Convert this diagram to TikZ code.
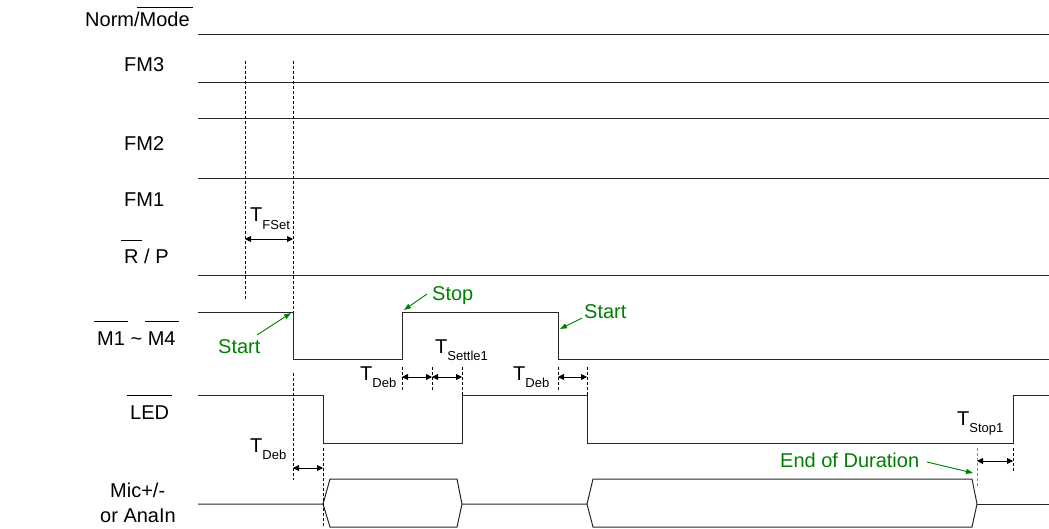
\documentclass[tikz,border=0pt]{standalone}
\usepackage{fontspec}
\setmainfont{Liberation Sans}
\usetikzlibrary{arrows.meta}
\definecolor{grn}{RGB}{0,128,0}
\newlength\ovw
\newcommand{\ovl}[2]{\settowidth{\ovw}{#2}\rlap{\hspace{-3pt}\rule[\dimexpr14.3pt+#1\relax]{\dimexpr\ovw+6pt\relax}{0.9pt}}#2}
\newcommand{\Tsb}[1]{T\raisebox{-7.5pt}{\fontsize{13}{13}\selectfont #1}}
\tikzset{
  sig/.style={line width=1pt, draw=black!85},
  dsh/.style={dash pattern=on 3pt off 2pt, line width=0.8pt},
  dimarr/.style={{Triangle[length=6pt,width=6pt]}-{Triangle[length=6pt,width=6pt]}, line width=0.9pt},
  garr/.style={-{Triangle[length=7pt,width=5pt]}, line width=0.9pt, draw=grn, fill=grn},
  lbl/.style={anchor=base west, inner sep=0pt, font=\fontsize{20}{22}\selectfont},
  glbl/.style={lbl, text=grn},
}
\begin{document}
\begin{tikzpicture}[x=1pt,y=-1pt]
\useasboundingbox (0,0) rectangle (1049,529);
% labels
\node[lbl] (lnm) at (85,27) {Norm/\ovl{5pt}{Mode}};
\node[lbl] (lfm3) at (124,72) {FM3};
\node[lbl] (lfm2) at (124,151) {FM2};
\node[lbl] (lfm1) at (124,207) {FM1};
\node[lbl] (lrp) at (124,264) {\ovl{9pt}{R} / P};
\node[lbl] (lm) at (97,345) {\ovl{9pt}{M1} \char`~{} \ovl{9pt}{M4}};
\node[lbl] (lled) at (130,419) {\ovl{9pt}{LED}};
\node[lbl] (lmic) at (110,497) {Mic+/-};
\node[lbl] (lana) at (100,522) {or AnaIn};
% static lines
\draw[sig] (198,35) -- (1049,35);
\draw[sig] (198,83) -- (1049,83);
\draw[sig] (198,119) -- (1049,119);
\draw[sig] (198,179) -- (1049,179);
\draw[sig] (198,276) -- (1049,276);
% M1~M4
\coordinate (m0) at (198,312);
\coordinate (mf1) at (293,312);
\coordinate (mr1) at (402,312);
\coordinate (mf2) at (558,312);
\draw[sig] (m0) -- (mf1) -- (293,359) -- (402,359) -- (mr1) -- (mf2) -- (558,359) -- (1049,359);
% LED
\draw[sig] (198,395) -- (323,395) -- (323,443) -- (462,443) -- (462,395) -- (587,395) -- (587,443) -- (1013,443) -- (1013,395) -- (1049,395);
% Mic
\draw[sig] (198,504) -- (323,504) -- (330,479) -- (457,479) -- (462,504) -- (457,527) -- (330,527) -- (323,504);
\draw[sig] (462,504) -- (587,504) -- (593,479) -- (972,479) -- (977,504) -- (972,527) -- (593,527) -- (587,504);
\draw[sig] (977,504) -- (1049,504);
% dashed
\draw[dsh] (245,61) -- (245,299);
\draw[dsh] (293,61) -- (293,312);
\draw[dsh] (293,373) -- (293,480);
\draw[dsh] (323,448) -- (323,527);
\draw[dsh] (402,367) -- (402,390);
\draw[dsh] (432,367) -- (432,390);
\draw[dsh] (462,367) -- (462,395);
\draw[dsh] (558,367) -- (558,390);
\draw[dsh] (587,367) -- (587,395);
\draw[dsh, draw=black!45] (977,448) -- (977,487);
\draw[dsh] (1013,448) -- (1013,473);
% dimension arrows
\draw[dimarr] (245,239) -- (293,239);
\draw[dimarr] (293,468) -- (323,468);
\draw[dimarr] (402,377) -- (432,377);
\draw[dimarr] (432,377) -- (462,377);
\draw[dimarr] (558,377) -- (587,377);
\draw[dimarr] (977,461) -- (1013,461);
% timing labels
\node[lbl] (tfset) at (250,222) {\Tsb{FSet}};
\node[lbl] (tdeb0) at (250,452) {\Tsb{Deb}};
\node[lbl] (tdeb1) at (360,380) {\Tsb{Deb}};
\node[lbl] (tset) at (435,353) {\Tsb{Settle1}};
\node[lbl] (tdeb2) at (513,380) {\Tsb{Deb}};
\node[lbl] (tstop) at (957,425) {\Tsb{Stop1}};
% green notes
\node[glbl] (gs1) at (218,353) {Start};
\node[glbl] (gst) at (432,300) {Stop};
\node[glbl] (gs2) at (584,318) {Start};
\node[glbl] (gend) at (780,467) {End of Duration};
\coordinate (a1) at (257,335);
\coordinate (a2) at (427,294);
\coordinate (a3) at (582,318);
\coordinate (a4) at (927,462);
\coordinate (e4) at (973,473);
\draw[garr] (a1) -- (291,313);
\draw[garr] (a2) -- (404,310);
\draw[garr] (a3) -- (560,329);
\draw[garr] (a4) -- (e4);
\end{tikzpicture}
\end{document}
